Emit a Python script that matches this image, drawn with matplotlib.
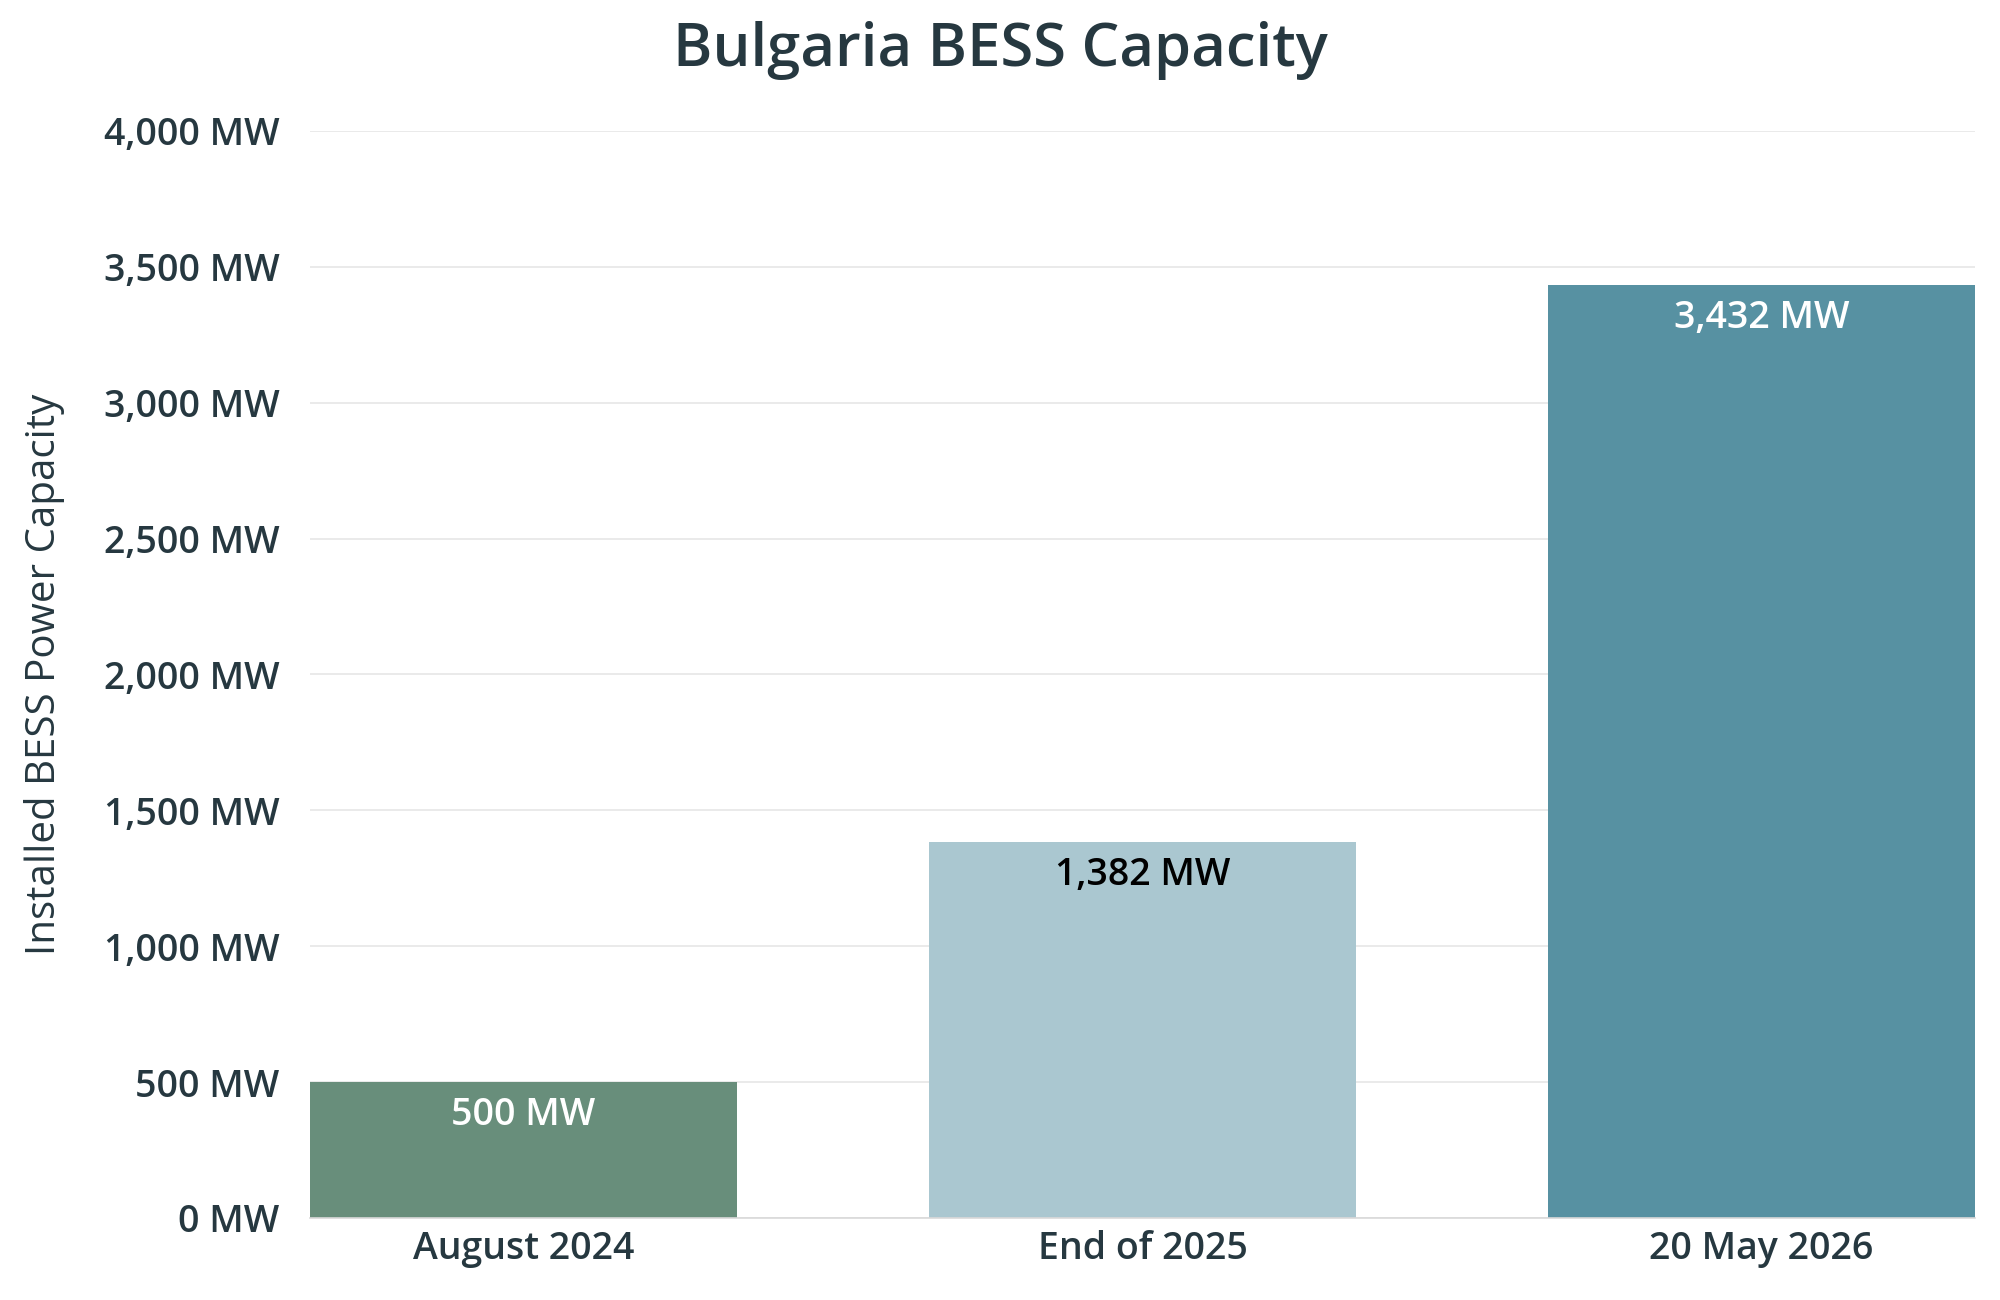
import matplotlib
matplotlib.use("Agg")
import matplotlib.pyplot as plt
from matplotlib.ticker import FuncFormatter

categories = ["August 2024", "End of 2025", "20 May 2026"]
values = [500, 1382, 3432]
bar_colors = ["#688E7B", "#AAC7D0", "#5791A2"]
label_colors = ["#FFFFFF", "#000000", "#FFFFFF"]
yticks = [0, 500, 1000, 1500, 2000, 2500, 3000, 3500, 4000]

plt.rcParams['font.family'] = ['Open Sans', 'DejaVu Sans']
text_color = "#263840"

fig = plt.figure(figsize=(20, 13), dpi=100)
ax = fig.add_axes([0.155, 0.0631, 0.8325, 0.8362])

x = list(range(len(categories)))
bars = ax.bar(x, values, width=0.69, color=bar_colors, zorder=2)
ax.set_xlim(-0.345, 2.345)
ax.set_ylim(0, 4000)
ax.set_yticks(yticks)
ax.yaxis.set_major_formatter(FuncFormatter(lambda v, p: f"{int(v):,} MW"))
ax.set_xticks(x)
ax.set_xticklabels(categories)

ax.grid(axis='y', color='#E6E6E6', linewidth=1.2, zorder=0)
ax.set_axisbelow(True)
for s in ['top', 'right', 'left']:
    ax.spines[s].set_visible(False)
ax.spines['bottom'].set_color('#D9D9D9')
ax.spines['bottom'].set_linewidth(1.2)

ax.tick_params(axis='both', length=0, labelsize=27, labelcolor=text_color)
ax.tick_params(axis='y', pad=22)
ax.tick_params(axis='x', pad=9)
for t in ax.get_xticklabels() + ax.get_yticklabels():
    t.set_fontweight('semibold')

for xi, v, c in zip(x, values, label_colors):
    ax.annotate(f"{v:,} MW", xy=(xi, v), xytext=(0, -10), textcoords='offset points',
                ha='center', va='top', fontsize=27, fontweight='semibold', color=c, zorder=3)

fig.text(0.0225, 0.4812, "Installed BESS Power Capacity", rotation=90, ha='center', va='center',
         fontsize=29, fontweight='medium', color=text_color)
fig.text(0.5, 1 - 66 / 1300, "Bulgaria BESS Capacity", ha='center', va='baseline',
         fontsize=43, fontweight='semibold', color=text_color)

fig.savefig("out.png", dpi=100)
